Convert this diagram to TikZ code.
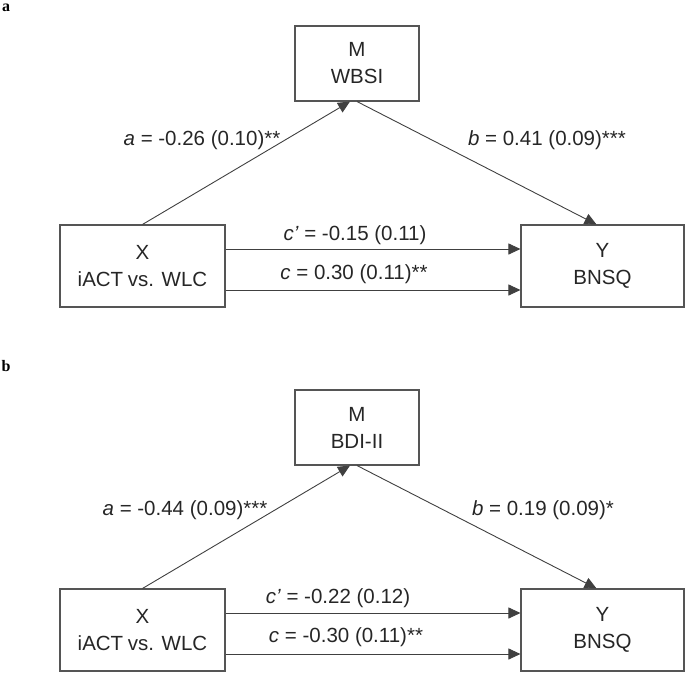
\documentclass[tikz,border=0pt]{standalone}
\usepackage{fontspec}
\setmainfont{Liberation Sans}
\newfontfamily\panelfont{Liberation Serif}
\usetikzlibrary{arrows.meta}
\definecolor{linegray}{HTML}{404040}
\definecolor{boxgray}{HTML}{555555}
\tikzset{
  varbox/.style={draw=boxgray, line width=1.1pt, rectangle, inner sep=0pt, align=center,
     font=\fontsize{20.5}{27}\selectfont, text=black!85},
  pathlab/.style={font=\fontsize{20.5}{24}\selectfont, text=black!85, inner sep=0pt},
  conn/.style={draw=linegray, line width=0.9pt, -{Triangle[length=12pt,width=11pt]}},
  paneltag/.style={font=\panelfont\bfseries\fontsize{16}{16}\selectfont, inner sep=0pt},
}
\begin{document}
\begin{tikzpicture}[x=1pt,y=-1pt]
\useasboundingbox (0,0) rectangle (685,672);
% ---------- panel a ----------
\node[paneltag] (taga) at (6,8) {a};
\node[varbox, minimum width=124pt, minimum height=75pt] (Ma) at (357,63.5) {M\\WBSI};
\node[varbox, minimum width=165pt, minimum height=82pt] (Xa) at (142.5,266) {X\\iACT\kern-1pt\ vs. WLC};
\node[varbox, minimum width=163pt, minimum height=82pt] (Ya) at (602.5,266) {Y\\BNSQ};
\draw[conn] (Xa.north) -- ([xshift=-7pt]Ma.south);
\draw[conn] (Ma.south) -- ([xshift=-6pt]Ya.north);
\draw[conn] ([yshift=17pt]Xa.east) -- ([yshift=17pt]Ya.west);
\draw[conn] ([yshift=-24pt]Xa.east) -- ([yshift=-24pt]Ya.west);
\node[pathlab] (la) at (202,140) {\textit{a} = -0.26 (0.10)**};
\node[pathlab] (lb) at (547,140) {\textit{b} = 0.41 (0.09)***};
\node[pathlab] (lcp) at (355,235) {\textit{c’} = -0.15 (0.11)};
\node[pathlab] (lc) at (354,274) {\textit{c} = 0.30 (0.11)**};
% ---------- panel b ----------
\node[paneltag] (tagb) at (6,366) {b};
\node[varbox, minimum width=124pt, minimum height=75pt] (Mb) at (357,427.5) {M\\BDI-II};
\node[varbox, minimum width=165pt, minimum height=82pt] (Xb) at (142.5,630) {X\\iACT\kern-1pt\ vs. WLC};
\node[varbox, minimum width=163pt, minimum height=82pt] (Yb) at (602.5,630) {Y\\BNSQ};
\draw[conn] (Xb.north) -- ([xshift=-7pt]Mb.south);
\draw[conn] (Mb.south) -- ([xshift=-6pt]Yb.north);
\draw[conn] ([yshift=17pt]Xb.east) -- ([yshift=17pt]Yb.west);
\draw[conn] ([yshift=-24pt]Xb.east) -- ([yshift=-24pt]Yb.west);
\node[pathlab] (la2) at (185,510) {\textit{a} = -0.44 (0.09)***};
\node[pathlab] (lb2) at (543,510) {\textit{b} = 0.19 (0.09)*};
\node[pathlab] (lcp2) at (338,598) {\textit{c’} = -0.22 (0.12)};
\node[pathlab] (lc2) at (346,637) {\textit{c} = -0.30 (0.11)**};
\end{tikzpicture}
\end{document}
